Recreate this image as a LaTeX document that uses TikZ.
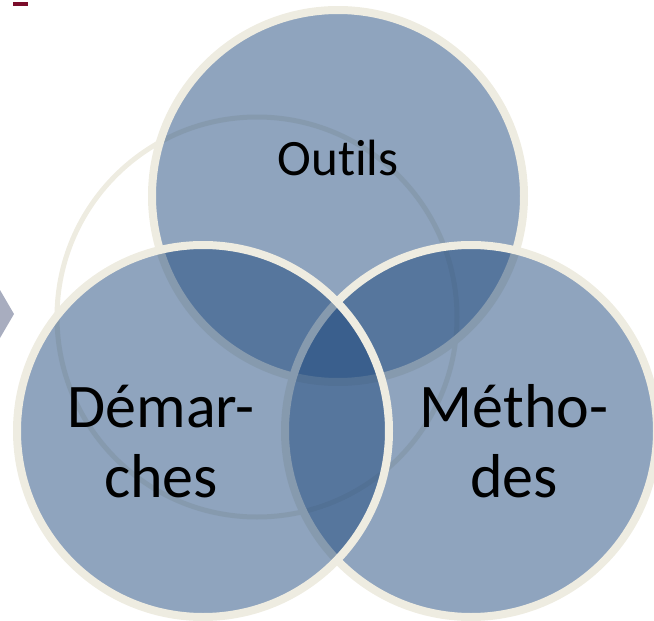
\documentclass[tikz,border=0pt]{standalone}
\usepackage{fontspec}
\setmainfont[Ligatures=NoCommon]{Carlito}
\definecolor{vennblue}{HTML}{1F497D}
\definecolor{rimbeige}{HTML}{EEECE1}
\definecolor{chevgrey}{HTML}{A8ADBF}
\definecolor{markred}{HTML}{7B0C2A}
\tikzset{
  venn/.style={fill=vennblue, fill opacity=0.5, draw=rimbeige, draw opacity=1, line width=8pt},
  ghost/.style={draw=rimbeige, line width=5pt},
  vlabel/.style={inner sep=0pt, align=center, text=black, text opacity=1, anchor=base},
}
\begin{document}
\begin{tikzpicture}[x=1pt, y=-1pt]
  \useasboundingbox (0,0) rectangle (654,621);
  % small mark and chevron at the left margin
  \fill[markred] (13,2) rectangle (28,6);
  \fill[chevgrey] (0,290) -- (14,314) -- (0,338) -- cycle;
  % faint ring behind the three sets
  \draw[ghost] (257,317) circle[radius=200];
  % the three sets, drawn in overlap order
  \path[venn] (338,196) circle[radius=186];
  \path[venn] (471,431) circle[radius=186];
  \path[venn] (203,431) circle[radius=186];
  % labels (base anchor sits on the last line)
  \node[vlabel, font=\fontsize{51}{60}\selectfont] (outils) at (338,175) {Outils};
  \node[vlabel, font=\fontsize{62}{70}\selectfont] (demarches) at (161,497) {Démar-\\ches};
  \node[vlabel, font=\fontsize{62}{70}\selectfont] (methodes) at (514,497) {Métho-\\des};
\end{tikzpicture}
\end{document}
